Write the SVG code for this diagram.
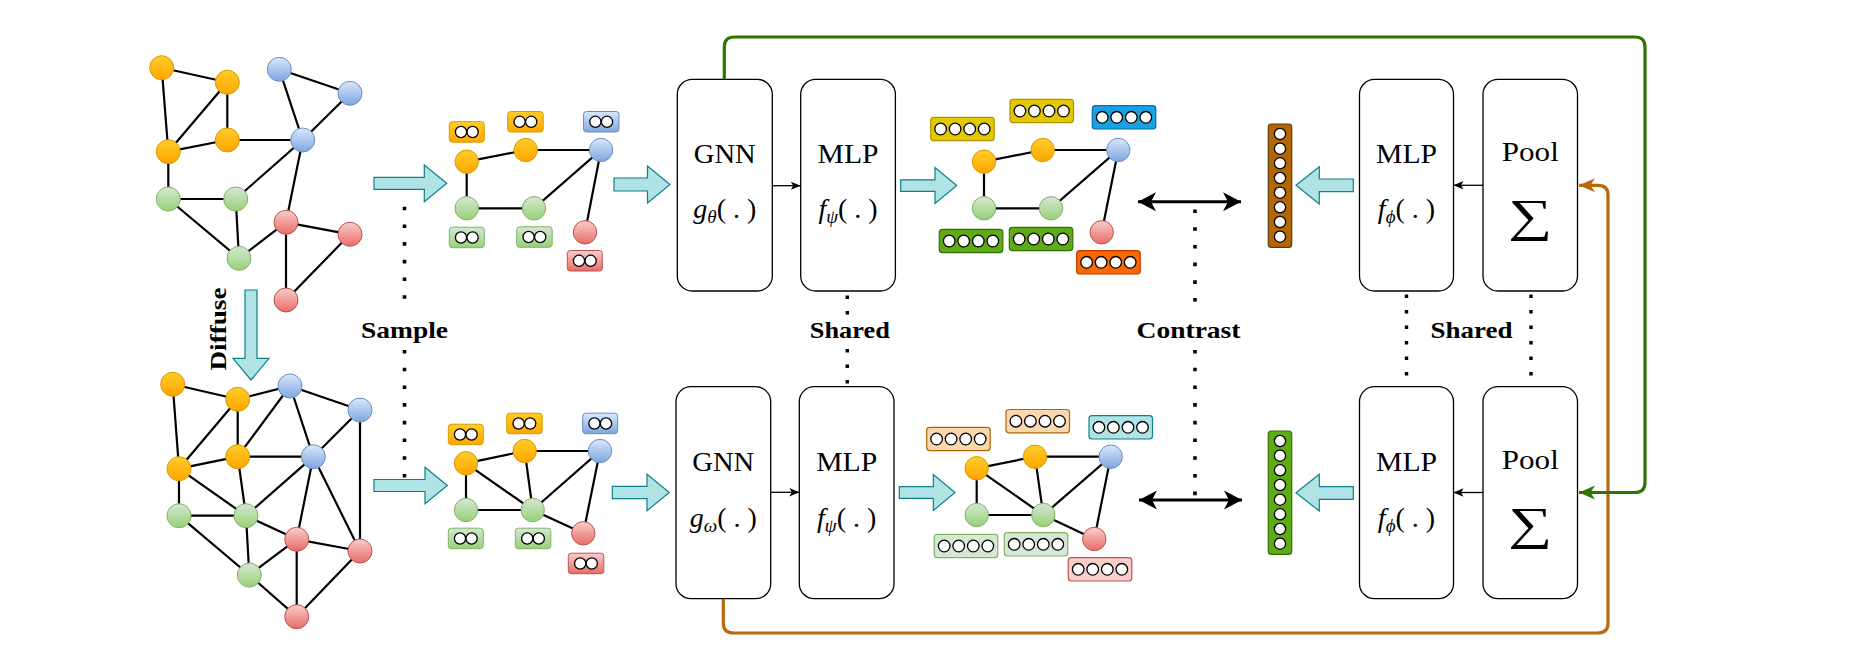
<svg xmlns="http://www.w3.org/2000/svg" width="1874" height="663" viewBox="0 0 1874 663">
<defs>
<linearGradient id="gO" x1="0" y1="0" x2="0" y2="1"><stop offset="0" stop-color="#ffcd28"/><stop offset="1" stop-color="#ffa500"/></linearGradient>
<linearGradient id="gB" x1="0" y1="0" x2="0" y2="1"><stop offset="0" stop-color="#dae8fc"/><stop offset="1" stop-color="#7ea6e0"/></linearGradient>
<linearGradient id="gG" x1="0" y1="0" x2="0" y2="1"><stop offset="0" stop-color="#d5e8d4"/><stop offset="1" stop-color="#97d077"/></linearGradient>
<linearGradient id="gR" x1="0" y1="0" x2="0" y2="1"><stop offset="0" stop-color="#f8cecc"/><stop offset="1" stop-color="#ea6b66"/></linearGradient>
<marker id="mk" markerUnits="userSpaceOnUse" markerWidth="12" markerHeight="10" refX="10" refY="5" orient="auto"><path d="M0,0.8 L10,5 L0,9.2 L2.5,5 z" fill="#000"/></marker>
<marker id="mG" markerUnits="userSpaceOnUse" markerWidth="18" markerHeight="16" refX="16" refY="8" orient="auto"><path d="M0,1 L16,8 L0,15 L4.5,8 z" fill="#2d7600"/></marker>
<marker id="mO" markerUnits="userSpaceOnUse" markerWidth="18" markerHeight="16" refX="16" refY="8" orient="auto"><path d="M0,1 L16,8 L0,15 L4.5,8 z" fill="#b8690a"/></marker>
<marker id="mD" markerUnits="userSpaceOnUse" markerWidth="20" markerHeight="20" refX="18" refY="10" orient="auto-start-reverse"><path d="M0,0.5 L18,10 L0,19.5 L5,10 z" fill="#000"/></marker>
</defs>
<style>
.e{stroke:#000;stroke-width:2.2;fill:none}
.nO{fill:url(#gO);stroke:#d79b00;stroke-width:1}
.nB{fill:url(#gB);stroke:#6c8ebf;stroke-width:1}
.nG{fill:url(#gG);stroke:#82b366;stroke-width:1}
.nR{fill:url(#gR);stroke:#b85450;stroke-width:1}
.ba{fill:#b0e3e6;stroke:#0e8088;stroke-width:1.2}
.box{fill:#fff;stroke:#000;stroke-width:1.3}
.c{fill:#fff;stroke:#000;stroke-width:1.3}
.t{font-family:"Liberation Serif","Times New Roman",serif;fill:#000;text-anchor:middle}
.big{font-size:28px}
.bold{font-size:24px;font-weight:bold}
.dot1{stroke:#000;stroke-width:3.6;stroke-dasharray:3.6 14.1;fill:none}
.dot2{stroke:#000;stroke-width:3.4;stroke-dasharray:3.4 12.1;fill:none}
.thin{stroke:#000;stroke-width:1.3;fill:none;marker-end:url(#mk)}
.yel{fill:#e3c800;stroke:#b09500;stroke-width:1.2}
.blu{fill:#1ba1e2;stroke:#006eaf;stroke-width:1.2}
.grn{fill:#60a917;stroke:#2d7600;stroke-width:1.2}
.org{fill:#fa6800;stroke:#c73500;stroke-width:1.2}
.lor{fill:#fad7ac;stroke:#b46504;stroke-width:1.2}
.ltl{fill:#b0e3e6;stroke:#0e8088;stroke-width:1.2}
.lgr{fill:#d5e8d4;stroke:#82b366;stroke-width:1.2}
.lrd{fill:#f8cecc;stroke:#b85450;stroke-width:1.2}
</style>
<rect width="1874" height="663" fill="#fff"/>

<!-- Original graph -->
<g id="graph-original">
<path class="e" d="M161.7,67.7L227.3,82.3M161.7,67.7L168.3,151.7M227.3,82.3L168.3,151.7M227.3,82.3L227.3,140M168.3,151.7L227.3,140M227.3,140L302.7,140M279.3,69.3L302.7,140M350,93.3L302.7,140M279.3,69.3L350,93.3M168.3,151.7L168.3,199M168.3,199L235.7,199M235.7,199L302.7,140M168.3,199L239,258.3M235.7,199L239,258.3M302.7,140L286,222.3M239,258.3L286,222.3M286,222.3L350,234.3M286,222.3L286,300M350,234.3L286,300"/>
<circle class="nO" cx="161.7" cy="67.7" r="12"/><circle class="nO" cx="227.3" cy="82.3" r="12"/><circle class="nO" cx="168.3" cy="151.7" r="12"/><circle class="nO" cx="227.3" cy="140" r="12"/>
<circle class="nB" cx="279.3" cy="69.3" r="12"/><circle class="nB" cx="350" cy="93.3" r="12"/><circle class="nB" cx="302.7" cy="140" r="12"/>
<circle class="nG" cx="168.3" cy="199" r="12"/><circle class="nG" cx="235.7" cy="199" r="12"/><circle class="nG" cx="239" cy="258.3" r="12"/>
<circle class="nR" cx="286" cy="222.3" r="12"/><circle class="nR" cx="350" cy="234.3" r="12"/><circle class="nR" cx="286" cy="300" r="12"/>
</g>

<!-- Diffused graph -->
<g id="graph-diffused">
<path class="e" d="M172.7,384.3L237.7,399.3M172.7,384.3L179,468.7M237.7,399.3L179,468.7M237.7,399.3L237.7,456.7M237.7,399.3L290,386M179,468.7L237.7,456.7M237.7,456.7L290,386M237.7,456.7L313.3,456.7M237.7,456.7L246,515.7M179,468.7L179,515.7M179,468.7L246,515.7M290,386L313.3,456.7M290,386L360,410M360,410L313.3,456.7M360,410L360,551M313.3,456.7L246,515.7M313.3,456.7L296.7,539.3M313.3,456.7L360,551M179,515.7L246,515.7M179,515.7L249.3,575M246,515.7L249.3,575M246,515.7L296.7,539.3M249.3,575L296.7,539.3M249.3,575L296.7,616.7M296.7,539.3L360,551M296.7,539.3L296.7,616.7M360,551L296.7,616.7"/>
<circle class="nO" cx="172.7" cy="384.3" r="12"/><circle class="nO" cx="237.7" cy="399.3" r="12"/><circle class="nO" cx="179" cy="468.7" r="12"/><circle class="nO" cx="237.7" cy="456.7" r="12"/>
<circle class="nB" cx="290" cy="386" r="12"/><circle class="nB" cx="360" cy="410" r="12"/><circle class="nB" cx="313.3" cy="456.7" r="12"/>
<circle class="nG" cx="179" cy="515.7" r="12"/><circle class="nG" cx="246" cy="515.7" r="12"/><circle class="nG" cx="249.3" cy="575" r="12"/>
<circle class="nR" cx="296.7" cy="539.3" r="12"/><circle class="nR" cx="360" cy="551" r="12"/><circle class="nR" cx="296.7" cy="616.7" r="12"/>
</g>

<!-- Sampled graph 1 -->
<g id="sampled-1">
<path class="e" d="M466.7,161.7L525.7,150L601,150M466.7,161.7L466.7,208.3L534,208.3L601,150L585,232.3"/>
<circle class="nO" cx="466.7" cy="161.7" r="11.7"/><circle class="nO" cx="525.7" cy="150" r="11.7"/><circle class="nB" cx="601" cy="150" r="11.7"/>
<circle class="nG" cx="466.7" cy="208.3" r="11.7"/><circle class="nG" cx="534" cy="208.3" r="11.7"/><circle class="nR" cx="585" cy="232.3" r="11.7"/>
<rect class="nO" x="449.3" y="121.7" width="35" height="20.5" rx="3"/><circle class="c" cx="461" cy="132" r="5.6"/><circle class="c" cx="472.6" cy="132" r="5.6"/>
<rect class="nO" x="507.7" y="111.5" width="35.5" height="20.5" rx="3"/><circle class="c" cx="519.6" cy="121.8" r="5.6"/><circle class="c" cx="531.2" cy="121.8" r="5.6"/>
<rect class="nB" x="583.5" y="111.5" width="35.5" height="20.5" rx="3"/><circle class="c" cx="595.4" cy="121.8" r="5.6"/><circle class="c" cx="607" cy="121.8" r="5.6"/>
<rect class="nG" x="449.3" y="227.2" width="35" height="20.5" rx="3"/><circle class="c" cx="461" cy="237.5" r="5.6"/><circle class="c" cx="472.6" cy="237.5" r="5.6"/>
<rect class="nG" x="516.7" y="226.8" width="35.5" height="20.5" rx="3"/><circle class="c" cx="528.6" cy="237" r="5.6"/><circle class="c" cx="540.2" cy="237" r="5.6"/>
<rect class="nR" x="567.3" y="250.5" width="35" height="20.5" rx="3"/><circle class="c" cx="579" cy="260.8" r="5.6"/><circle class="c" cx="590.6" cy="260.8" r="5.6"/>
</g>

<!-- Sampled graph 2 -->
<g id="sampled-2">
<path class="e" d="M466,463.3L524.7,451L600,451M466,463.3L466,510L532.7,510L600,451L583.3,533.3M466,463.3L532.7,510M524.7,451L532.7,510M532.7,510L583.3,533.3"/>
<circle class="nO" cx="466" cy="463.3" r="11.7"/><circle class="nO" cx="524.7" cy="451" r="11.7"/><circle class="nB" cx="600" cy="451" r="11.7"/>
<circle class="nG" cx="466" cy="510" r="11.7"/><circle class="nG" cx="532.7" cy="510" r="11.7"/><circle class="nR" cx="583.3" cy="533.3" r="11.7"/>
<rect class="nO" x="448.3" y="424.2" width="35" height="20.5" rx="3"/><circle class="c" cx="460" cy="434.5" r="5.6"/><circle class="c" cx="471.6" cy="434.5" r="5.6"/>
<rect class="nO" x="506.7" y="413.2" width="35.5" height="20.5" rx="3"/><circle class="c" cx="518.6" cy="423.5" r="5.6"/><circle class="c" cx="530.2" cy="423.5" r="5.6"/>
<rect class="nB" x="582.7" y="413.2" width="35" height="20.5" rx="3"/><circle class="c" cx="594.4" cy="423.5" r="5.6"/><circle class="c" cx="606" cy="423.5" r="5.6"/>
<rect class="nG" x="448.3" y="528.2" width="35" height="20.5" rx="3"/><circle class="c" cx="460" cy="538.5" r="5.6"/><circle class="c" cx="471.6" cy="538.5" r="5.6"/>
<rect class="nG" x="515.3" y="528.2" width="35.5" height="20.5" rx="3"/><circle class="c" cx="527.2" cy="538.5" r="5.6"/><circle class="c" cx="538.8" cy="538.5" r="5.6"/>
<rect class="nR" x="568.3" y="553.2" width="35.5" height="20.5" rx="3"/><circle class="c" cx="580.2" cy="563.5" r="5.6"/><circle class="c" cx="591.8" cy="563.5" r="5.6"/>
</g>

<!-- Embedded graph 1 -->
<g id="embedded-1">
<path class="e" d="M984,161.7L1042.7,150L1118.3,150M984,161.7L984,208.3L1051,208.3L1118.3,150L1101.7,232.3"/>
<circle class="nO" cx="984" cy="161.7" r="11.7"/><circle class="nO" cx="1042.7" cy="150" r="11.7"/><circle class="nB" cx="1118.3" cy="150" r="11.7"/>
<circle class="nG" cx="984" cy="208.3" r="11.7"/><circle class="nG" cx="1051" cy="208.3" r="11.7"/><circle class="nR" cx="1101.7" cy="232.3" r="11.7"/>
<rect class="yel" x="930.7" y="117.3" width="63.5" height="23.3" rx="3"/><circle class="c" cx="940.6" cy="129" r="5.8"/><circle class="c" cx="955.1" cy="129" r="5.8"/><circle class="c" cx="969.7" cy="129" r="5.8"/><circle class="c" cx="984.2" cy="129" r="5.8"/>
<rect class="yel" x="1010" y="99.3" width="63.5" height="23.3" rx="3"/><circle class="c" cx="1019.9" cy="111" r="5.8"/><circle class="c" cx="1034.4" cy="111" r="5.8"/><circle class="c" cx="1049" cy="111" r="5.8"/><circle class="c" cx="1063.5" cy="111" r="5.8"/>
<rect class="blu" x="1092.3" y="105.7" width="63.5" height="23.3" rx="3"/><circle class="c" cx="1102.2" cy="117.3" r="5.8"/><circle class="c" cx="1116.7" cy="117.3" r="5.8"/><circle class="c" cx="1131.3" cy="117.3" r="5.8"/><circle class="c" cx="1145.8" cy="117.3" r="5.8"/>
<rect class="grn" x="939.3" y="229.3" width="63.5" height="23.3" rx="3"/><circle class="c" cx="949.2" cy="241" r="5.8"/><circle class="c" cx="963.7" cy="241" r="5.8"/><circle class="c" cx="978.3" cy="241" r="5.8"/><circle class="c" cx="992.8" cy="241" r="5.8"/>
<rect class="grn" x="1009.3" y="227.3" width="63.5" height="23.3" rx="3"/><circle class="c" cx="1019.2" cy="239" r="5.8"/><circle class="c" cx="1033.7" cy="239" r="5.8"/><circle class="c" cx="1048.3" cy="239" r="5.8"/><circle class="c" cx="1062.8" cy="239" r="5.8"/>
<rect class="org" x="1076.7" y="250.7" width="63.5" height="23.3" rx="3"/><circle class="c" cx="1086.6" cy="262.3" r="5.8"/><circle class="c" cx="1101.1" cy="262.3" r="5.8"/><circle class="c" cx="1115.7" cy="262.3" r="5.8"/><circle class="c" cx="1130.2" cy="262.3" r="5.8"/>
</g>

<!-- Embedded graph 2 -->
<g id="embedded-2">
<path class="e" d="M976.7,468.3L1035,456.7L1110.7,456.7M976.7,468.3L976.7,515L1043.3,515L1110.7,456.7L1094.3,539M976.7,468.3L1043.3,515M1035,456.7L1043.3,515M1043.3,515L1094.3,539"/>
<circle class="nO" cx="976.7" cy="468.3" r="11.7"/><circle class="nO" cx="1035" cy="456.7" r="11.7"/><circle class="nB" cx="1110.7" cy="456.7" r="11.7"/>
<circle class="nG" cx="976.7" cy="515" r="11.7"/><circle class="nG" cx="1043.3" cy="515" r="11.7"/><circle class="nR" cx="1094.3" cy="539" r="11.7"/>
<rect class="lor" x="926.7" y="427.3" width="63.5" height="23.3" rx="3"/><circle class="c" cx="936.6" cy="439" r="5.8"/><circle class="c" cx="951.1" cy="439" r="5.8"/><circle class="c" cx="965.7" cy="439" r="5.8"/><circle class="c" cx="980.2" cy="439" r="5.8"/>
<rect class="lor" x="1006" y="409.5" width="63.5" height="23.3" rx="3"/><circle class="c" cx="1015.9" cy="421.2" r="5.8"/><circle class="c" cx="1030.4" cy="421.2" r="5.8"/><circle class="c" cx="1045" cy="421.2" r="5.8"/><circle class="c" cx="1059.5" cy="421.2" r="5.8"/>
<rect class="ltl" x="1089" y="415.7" width="63.5" height="23.3" rx="3"/><circle class="c" cx="1098.9" cy="427.3" r="5.8"/><circle class="c" cx="1113.4" cy="427.3" r="5.8"/><circle class="c" cx="1128" cy="427.3" r="5.8"/><circle class="c" cx="1142.5" cy="427.3" r="5.8"/>
<rect class="lgr" x="934.3" y="534.3" width="63.5" height="23.3" rx="3"/><circle class="c" cx="944.2" cy="546" r="5.8"/><circle class="c" cx="958.7" cy="546" r="5.8"/><circle class="c" cx="973.3" cy="546" r="5.8"/><circle class="c" cx="987.8" cy="546" r="5.8"/>
<rect class="lgr" x="1004.3" y="532.7" width="63.5" height="23.3" rx="3"/><circle class="c" cx="1014.2" cy="544.3" r="5.8"/><circle class="c" cx="1028.7" cy="544.3" r="5.8"/><circle class="c" cx="1043.3" cy="544.3" r="5.8"/><circle class="c" cx="1057.8" cy="544.3" r="5.8"/>
<rect class="lrd" x="1068.3" y="557.7" width="63.5" height="23.3" rx="3"/><circle class="c" cx="1078.2" cy="569.3" r="5.8"/><circle class="c" cx="1092.7" cy="569.3" r="5.8"/><circle class="c" cx="1107.3" cy="569.3" r="5.8"/><circle class="c" cx="1121.8" cy="569.3" r="5.8"/>
</g>

<!-- Graph-level vectors -->
<g id="vector-1">
<rect x="1268.3" y="124" width="23.4" height="123.3" rx="3" fill="#b46504" stroke="#5a3a10" stroke-width="1.2"/>
<circle class="c" cx="1280" cy="134" r="5.6"/><circle class="c" cx="1280" cy="148.7" r="5.6"/><circle class="c" cx="1280" cy="163.3" r="5.6"/><circle class="c" cx="1280" cy="178" r="5.6"/><circle class="c" cx="1280" cy="192.7" r="5.6"/><circle class="c" cx="1280" cy="207.3" r="5.6"/><circle class="c" cx="1280" cy="222" r="5.6"/><circle class="c" cx="1280" cy="236.7" r="5.6"/>
</g>
<g id="vector-2">
<rect x="1268.3" y="431" width="23.4" height="123.3" rx="3" fill="#60a917" stroke="#2d7600" stroke-width="1.2"/>
<circle class="c" cx="1280" cy="441" r="5.6"/><circle class="c" cx="1280" cy="455.7" r="5.6"/><circle class="c" cx="1280" cy="470.3" r="5.6"/><circle class="c" cx="1280" cy="485" r="5.6"/><circle class="c" cx="1280" cy="499.7" r="5.6"/><circle class="c" cx="1280" cy="514.3" r="5.6"/><circle class="c" cx="1280" cy="529" r="5.6"/><circle class="c" cx="1280" cy="543.7" r="5.6"/>
</g>

<!-- Module boxes -->
<g id="gnn-1"><rect class="box" x="677.3" y="79.3" width="95" height="211.7" rx="15"/>
<text class="t big" x="724.8" y="163.3" textLength="62" lengthAdjust="spacingAndGlyphs">GNN</text>
<text class="t big" x="724.8" y="218.3"><tspan font-style="italic">g</tspan><tspan font-style="italic" font-size="19" dy="5">θ</tspan><tspan dy="-5">( . )</tspan></text></g>
<g id="mlp-1"><rect class="box" x="800.7" y="79.3" width="94.7" height="211.7" rx="15"/>
<text class="t big" x="848" y="163.3" textLength="61" lengthAdjust="spacingAndGlyphs">MLP</text>
<text class="t big" x="848" y="218.3"><tspan font-style="italic">f</tspan><tspan font-style="italic" font-size="19" dy="5">ψ</tspan><tspan dy="-5">( . )</tspan></text></g>
<g id="gnn-2"><rect class="box" x="676" y="386.7" width="94.7" height="212" rx="15"/>
<text class="t big" x="723.3" y="470.7" textLength="62" lengthAdjust="spacingAndGlyphs">GNN</text>
<text class="t big" x="723.3" y="526.5"><tspan font-style="italic">g</tspan><tspan font-style="italic" font-size="19" dy="5">ω</tspan><tspan dy="-5">( . )</tspan></text></g>
<g id="mlp-2"><rect class="box" x="799.3" y="386.7" width="94.7" height="212" rx="15"/>
<text class="t big" x="846.7" y="470.7" textLength="61" lengthAdjust="spacingAndGlyphs">MLP</text>
<text class="t big" x="846.7" y="526.5"><tspan font-style="italic">f</tspan><tspan font-style="italic" font-size="19" dy="5">ψ</tspan><tspan dy="-5">( . )</tspan></text></g>
<g id="mlp-3"><rect class="box" x="1359.5" y="79.3" width="94" height="211.7" rx="15"/>
<text class="t big" x="1406.5" y="163.3" textLength="61" lengthAdjust="spacingAndGlyphs">MLP</text>
<text class="t big" x="1406.5" y="218.3"><tspan font-style="italic">f</tspan><tspan font-style="italic" font-size="19" dy="5">ϕ</tspan><tspan dy="-5">( . )</tspan></text></g>
<g id="pool-1"><rect class="box" x="1483" y="79.3" width="94.5" height="211.7" rx="15"/>
<text class="t big" x="1530.3" y="161" textLength="57" lengthAdjust="spacingAndGlyphs">Pool</text>
<text class="t" font-size="46" x="1530.3" y="231" textLength="44" lengthAdjust="spacingAndGlyphs">∑</text></g>
<g id="mlp-4"><rect class="box" x="1359.5" y="386.7" width="94" height="212" rx="15"/>
<text class="t big" x="1406.5" y="470.7" textLength="61" lengthAdjust="spacingAndGlyphs">MLP</text>
<text class="t big" x="1406.5" y="526.5"><tspan font-style="italic">f</tspan><tspan font-style="italic" font-size="19" dy="5">ϕ</tspan><tspan dy="-5">( . )</tspan></text></g>
<g id="pool-2"><rect class="box" x="1483" y="386.7" width="94.5" height="212" rx="15"/>
<text class="t big" x="1530.3" y="468.5" textLength="57" lengthAdjust="spacingAndGlyphs">Pool</text>
<text class="t" font-size="46" x="1530.3" y="538.5" textLength="44" lengthAdjust="spacingAndGlyphs">∑</text></g>

<!-- Labels -->
<g id="labels">
<text class="t bold" x="404.5" y="337.5" textLength="87" lengthAdjust="spacingAndGlyphs">Sample</text>
<text class="t bold" x="849.8" y="337.5" textLength="80" lengthAdjust="spacingAndGlyphs">Shared</text>
<text class="t bold" x="1188.5" y="337.5" textLength="104" lengthAdjust="spacingAndGlyphs">Contrast</text>
<text class="t bold" x="1471.5" y="337.5" textLength="82" lengthAdjust="spacingAndGlyphs">Shared</text>
<text class="t bold" transform="translate(226,329) rotate(-90)" x="0" y="0" textLength="83" lengthAdjust="spacingAndGlyphs">Diffuse</text>
</g>

<!-- Connectors -->
<g id="connectors">
<path class="ba" d="M245,290H257V358.3H269L251,380L233,358.3H245Z"/>
<path class="ba" d="M374,177.3H424.3V165L446.7,183.3L424.3,201.7V189.3H374Z"/>
<path class="ba" d="M374,479.5H425V467.2L447.3,485.5L425,503.8V491.5H374Z"/>
<path class="ba" d="M614,178H647.5V166L670,184.5L647.5,203V191H614Z"/>
<path class="ba" d="M612.3,486.3H647V474.3L669.3,492.5L647,510.7V498.7H612.3Z"/>
<path class="ba" d="M900.7,179.8H935V167.5L956.7,185.5L935,203.5V191.3H900.7Z"/>
<path class="ba" d="M899.3,486.7H933.3V474.5L955,492.5L933.3,510.5V498.3H899.3Z"/>
<path class="ba" d="M1353.3,179H1319.3V166.7L1296,185.3L1319.3,204V191.7H1353.3Z"/>
<path class="ba" d="M1353.3,486.7H1319.3V474.3L1296,492.7L1319.3,511V499.3H1353.3Z"/>
<line class="thin" x1="772.3" y1="185.7" x2="800.7" y2="185.7"/>
<line class="thin" x1="770.7" y1="492.3" x2="799.3" y2="492.3"/>
<line class="thin" x1="1483" y1="185.3" x2="1453.5" y2="185.3"/>
<line class="thin" x1="1483" y1="492.5" x2="1453.5" y2="492.5"/>
<line x1="1138" y1="201.7" x2="1241" y2="201.7" stroke="#000" stroke-width="3" marker-start="url(#mD)" marker-end="url(#mD)"/>
<line x1="1139" y1="500" x2="1242" y2="500" stroke="#000" stroke-width="3" marker-start="url(#mD)" marker-end="url(#mD)"/>
<path class="dot1" d="M404.5,206.7V310M404.5,350V478"/>
<path class="dot1" d="M1195,209.5V310M1195,350V496"/>
<path class="dot2" d="M847.3,295.5V316M847.3,349V387"/>
<path class="dot2" d="M1406.5,294.5V387"/>
<path class="dot2" d="M1531,294.5V387"/>
<path d="M723.3,598.7V623Q723.3,633 733.3,633H1598Q1608,633 1608,623V195Q1608,185.3 1598,185.3H1579" stroke="#b8690a" stroke-width="3.2" fill="none" marker-end="url(#mO)"/>
<path d="M724.3,79.3V47Q724.3,37 734.3,37H1635Q1645,37 1645,47V482.5Q1645,492.5 1635,492.5H1579" stroke="#2d7600" stroke-width="3.2" fill="none" marker-end="url(#mG)"/>
</g>
</svg>
